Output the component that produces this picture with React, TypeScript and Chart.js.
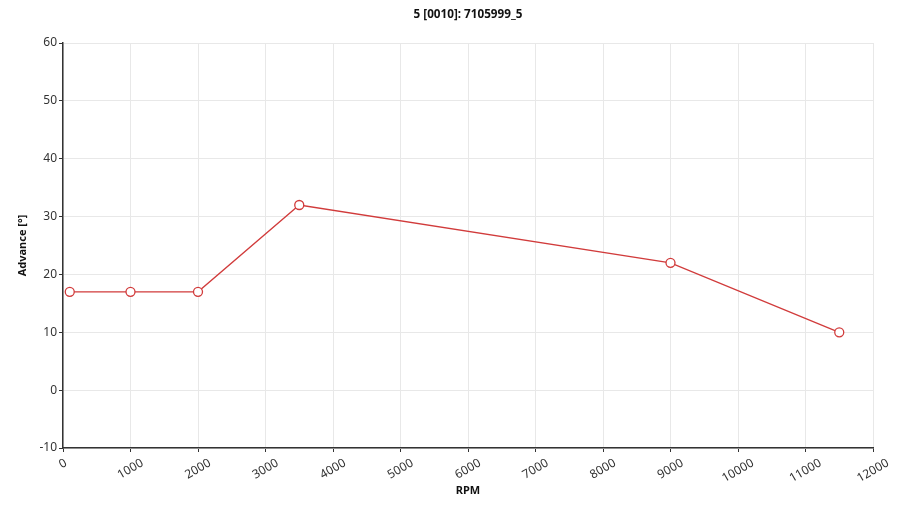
import React, { useEffect, useRef } from "react";
import { Chart, registerables } from "chart.js";

Chart.register(...registerables);

const TITLE = "5 [0010]: 7105999_5";
const X_TITLE = "RPM";
const Y_TITLE = "Advance [°]";
const rpm = [100, 1000, 2000, 3500, 9000, 11500];
const advance = [17, 17, 17, 32, 22, 10];
const X_MIN = 0, X_MAX = 12000, X_STEP = 1000;
const Y_MIN = -10, Y_MAX = 60, Y_STEP = 10;

const FONT = "'Noto Sans', 'Open Sans', sans-serif";

const rotatedXLabels = {
  id: "rotatedXLabels",
  afterDraw(chart: any) {
    const scale = chart.scales.x;
    const ctx = chart.ctx;
    ctx.save();
    ctx.font = `12px ${FONT}`;
    ctx.fillStyle = "#333";
    ctx.textAlign = "center";
    ctx.textBaseline = "middle";
    const ang = (30 * Math.PI) / 180;
    for (const t of scale.ticks) {
      const label = String(t.value);
      const w = ctx.measureText(label).width;
      const h = 12;
      const half = (w * Math.sin(ang) + h * Math.cos(ang)) / 2;
      const x = scale.getPixelForValue(t.value);
      const y = scale.top + 9 + half;
      ctx.save();
      ctx.translate(x, y);
      ctx.rotate(-ang);
      ctx.fillText(label, 0, 0);
      ctx.restore();
    }
    ctx.restore();
  },
};

export default function App() {
  const ref = useRef<HTMLCanvasElement>(null);
  useEffect(() => {
    const chart = new Chart(ref.current!, {
      type: "line",
      data: {
        datasets: [
          {
            data: rpm.map((x, i) => ({ x, y: advance[i] })),
            borderColor: "#d13b3b",
            borderWidth: 1.3,
            backgroundColor: "#ffffff",
            pointBackgroundColor: "#ffffff",
            pointBorderColor: "#d13b3b",
            pointBorderWidth: 1.3,
            pointRadius: 4.5,
            tension: 0,
          },
        ],
      },
      plugins: [rotatedXLabels],
      options: {
        responsive: false,
        animation: false,
        layout: { padding: { left: 0, right: 27, top: 0, bottom: 0 } },
        plugins: {
          legend: { display: false },
          tooltip: { enabled: false },
          title: {
            display: true,
            text: TITLE,
            fullSize: false,
            color: "#111",
            font: { family: FONT, size: 11.7, weight: "bold" },
            padding: { top: 8, bottom: 20.96 },
          },
        },
        scales: {
          x: {
            type: "linear",
            min: X_MIN,
            max: X_MAX,
            afterFit: (s: any) => { s.height = 57; },
            ticks: { stepSize: X_STEP, color: "rgba(0,0,0,0)", font: { family: FONT, size: 12 }, maxRotation: 30, minRotation: 30 },
            grid: { color: "#e8e8e8", tickColor: "#333", tickLength: 4, lineWidth: 1 },
            border: { color: "#333", width: 1.5 },
            title: {
              display: true,
              text: X_TITLE,
              color: "#111",
              font: { family: FONT, size: 11, weight: "bold" },
              padding: { top: 8, bottom: 8 },
            },
          },
          y: {
            type: "linear",
            min: Y_MIN,
            max: Y_MAX,
            afterFit: (s: any) => { s.width = 63; },
            ticks: { stepSize: Y_STEP, color: "#333", font: { family: FONT, size: 12 }, padding: 2 },
            grid: { color: "#e8e8e8", tickColor: "#333", tickLength: 4, lineWidth: 1 },
            border: { color: "#333", width: 1.5 },
            title: {
              display: true,
              text: Y_TITLE,
              color: "#111",
              font: { family: FONT, size: 11, weight: "bold" },
              padding: { top: 16, bottom: 0 },
            },
          },
        },
      },
    });
    return () => chart.destroy();
  }, []);
  return (
    <div style={{ position: "absolute", left: 0, top: 0, width: 900, height: 505, background: "#fff" }}>
      <canvas ref={ref} width={900} height={505} style={{ width: 900, height: 505 }} />
    </div>
  );
}
